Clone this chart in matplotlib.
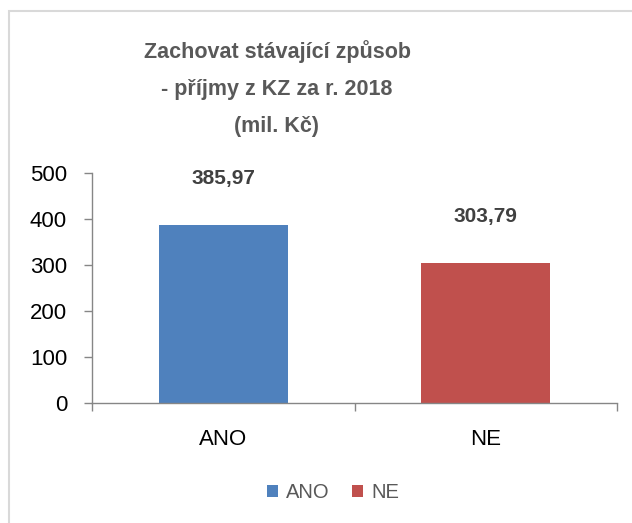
import numpy as np
import matplotlib
matplotlib.use('Agg')
import matplotlib.pyplot as plt
from matplotlib.patches import Rectangle, Patch

plt.rc('font', family='Liberation Sans')

categories = ['ANO', 'NE']
values = [385.97, 303.79]
value_labels = ['385,97', '303,79']
colors = ['#4F81BD', '#C0504D']
y_ticks = [0, 100, 200, 300, 400, 500]

fig = plt.figure(figsize=(6.32, 5.23), dpi=100)
ax = fig.add_axes([92/632, 1-403/523, (617-92)/632, (403-173)/523])

x = np.arange(len(categories))
ax.bar(x, values, width=0.49, color=colors)

for xi, v, lab in zip(x, values, value_labels):
    ax.annotate(lab, (xi, v), xytext=(0, 27), textcoords='offset points',
                ha='center', va='bottom', fontsize=15, fontweight='bold',
                color='#404040')

ax.set_xlim(-0.5, 1.5)
ax.set_ylim(0, 500)
ax.set_yticks(y_ticks)
ax.set_xticks([-0.5, 0.5, 1.5])
ax.set_xticklabels([])
ax.set_xticks(x, minor=True)
ax.set_xticklabels(categories, minor=True)
ax.tick_params(axis='x', which='minor', length=0, pad=19, labelsize=16)
ax.tick_params(axis='x', which='major', length=6, width=1, color='#868686')
ax.tick_params(axis='y', length=6, width=1, color='#868686', pad=12,
               labelsize=16)

for s in ['top', 'right']:
    ax.spines[s].set_visible(False)
for s in ['left', 'bottom']:
    ax.spines[s].set_color('#868686')
    ax.spines[s].set_linewidth(1)

fig.text(277/632, 1-89/523, 'Zachovat stávající způsob\n- příjmy z KZ za r. 2018\n(mil. Kč)',
         ha='center', va='center', fontsize=15.5, fontweight='bold',
         color='#595959', linespacing=2.0)

handles = [Patch(facecolor=c, edgecolor='none') for c in colors]
fig.legend(handles, categories, loc='center', bbox_to_anchor=(333/632, 1-493/523),
           ncol=2, frameon=False, fontsize=14.5, labelcolor='#595959',
           handlelength=0.55, handleheight=0.55, handletextpad=0.4,
           columnspacing=1.1)

fig.patches.append(Rectangle((9/632, -0.1), 1.2, 1-11/523+0.1,
                             transform=fig.transFigure, fill=False,
                             edgecolor='#D9D9D9', linewidth=1.5))

fig.savefig('out.png', dpi=100)
